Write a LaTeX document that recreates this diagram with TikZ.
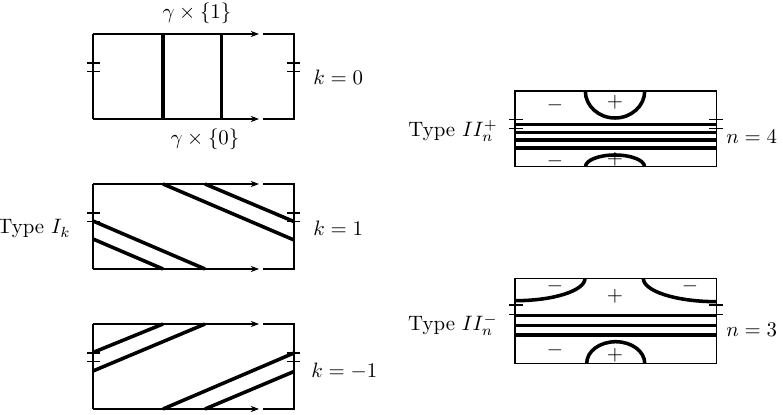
\documentclass[tikz,border=0pt]{standalone}
\usepackage{amsmath}
\usetikzlibrary{arrows.meta}
\tikzset{>={Stealth}}

\begin{document}
\begin{tikzpicture}[
  x=0.48pt, y=-0.48pt,
  frame/.style={line width=0.5pt},
  strand/.style={line width=1.7pt},
  tick/.style={line width=0.5pt},
  edge/.style={->,>={Stealth[length=4pt,width=3pt]},line width=0.5pt},
  lab/.style={inner sep=0pt}
]
  \useasboundingbox (0,0) rectangle (783,415);

  % Left column: three boxes, ends glued
  \foreach \t in {34,184,324} {
    \draw[frame] (263,\t) -- (294,\t) -- (294,\t+85) -- (263,\t+85);
    \draw[frame] (93,\t) -- (93,\t+85);
    \draw[edge] (93,\t) -- (259,\t);
    \draw[edge] (93,\t+85) -- (259,\t+85);
    \foreach \h in {29,37.5} {
      \draw[tick] (87,\t+\h) -- (100,\t+\h);
      \draw[tick] (287,\t+\h) -- (300,\t+\h);
    }
  }

  % k = 0
  \draw[strand] (163,34) -- (163,119);
  \draw[strand] (221.5,34) -- (221.5,119);
  \node[lab] (g1) at (197,13.5) {$\gamma\times\{1\}$};
  \node[lab] (g0) at (205,139) {$\gamma\times\{0\}$};
  \node[lab, anchor=west] (k0) at (313,77) {$k=0$};

  % k = 1
  \draw[strand] (163,184) -- (294,240);
  \draw[strand] (205,184) -- (294,221.6);
  \draw[strand] (93,221) -- (205,269);
  \draw[strand] (93,239) -- (163,269);
  \node[lab, anchor=west] (k1) at (313,228) {$k=1$};
  \node[lab, anchor=east] (typeI) at (71,229) {Type $I_k$};

  % k = -1
  \draw[strand] (93,352.5) -- (163,324);
  \draw[strand] (93,371) -- (205,324);
  \draw[strand] (163,409) -- (294,353);
  \draw[strand] (205,409) -- (294,371.5);
  \node[lab, anchor=west] (km1) at (311,371) {$k=-1$};

  % Type II^+ (n = 4)
  \draw[frame] (515,91) rectangle (716.7,166.7);
  \foreach \h in {119.3,128.3} {
    \draw[tick] (509,\h) -- (523,\h);
    \draw[tick] (709,\h) -- (723,\h);
  }
  \foreach \y in {124.3,132.3,140,148}
    \draw[strand] (515,\y) -- (716.7,\y);
  \draw[strand] (585.3,91) arc[start angle=180, end angle=0, x radius=29.7, y radius=27];
  \draw[strand] (585.5,166.7) arc[start angle=180, end angle=360, x radius=29.5, y radius=11.7];
  \node (m1) at (555,105) {$-$};
  \node (p1) at (615,102.7) {$+$};
  \node (m2) at (555,161.7) {$-$};
  \node (p2) at (615,159) {$+$};
  \node[lab, anchor=east] (typeIIp) at (498,131) {Type $II_n^+$};
  \node[lab, anchor=west] (n4) at (726,137) {$n=4$};

  % Type II^- (n = 3)
  \draw[frame] (515,278.3) rectangle (716.7,363.3);
  \foreach \h in {305,314.3} {
    \draw[tick] (509,\h) -- (523,\h);
    \draw[tick] (709,\h) -- (723,\h);
  }
  \foreach \y in {315.7,325.5,335}
    \draw[strand] (515,\y) -- (716.7,\y);
  \draw[strand] (585,278.3) arc[start angle=0, end angle=90, x radius=70, y radius=22.4];
  \draw[strand] (643.3,278.3) arc[start angle=180, end angle=90, x radius=73.4, y radius=23.4];
  \draw[strand] (586.7,363.3) arc[start angle=180, end angle=360, x radius=29, y radius=21.6];
  \node (m3) at (555,286) {$-$};
  \node (m4) at (690,286) {$-$};
  \node (p3) at (615,296) {$+$};
  \node (m5) at (555,350) {$-$};
  \node (p4) at (615,355) {$+$};
  \node[lab, anchor=east] (typeIIm) at (498,325) {Type $II_n^-$};
  \node[lab, anchor=west] (n3) at (726,330) {$n=3$};
\end{tikzpicture}
\end{document}
